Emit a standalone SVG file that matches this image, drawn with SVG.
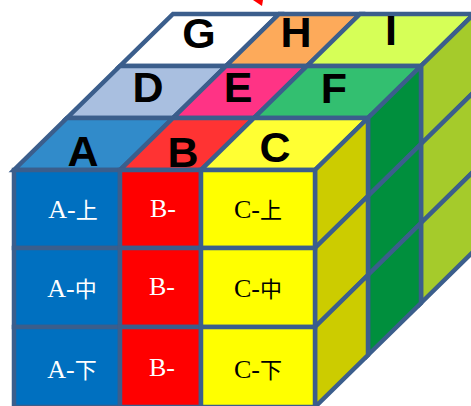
<svg xmlns="http://www.w3.org/2000/svg" width="471" height="406" viewBox="0 0 471 406">
<style>
.f{stroke:#3B5E8C;stroke-width:4.5;stroke-linejoin:miter}
.lab{font-family:"Liberation Sans",Arial,sans-serif;font-weight:bold;font-size:43px;text-anchor:middle;fill:#000}
.t{font-family:"Liberation Serif","Noto Sans CJK JP",serif;font-size:26px;text-anchor:middle}
.j{font-family:"Noto Sans CJK JP",sans-serif;font-size:22px}
.w{fill:#fff}
.k{fill:#000}
</style>
<rect width="471" height="406" fill="#fff"/>
<polygon points="253,0 263,0 262,6" fill="#FF0000"/>
<g id="top-G"><polygon class="f" fill="#FFFFFF" points="120,66 226,66 279,14 173,14"/><text class="lab" x="199" y="48">G</text></g>
<g id="top-H"><polygon class="f" fill="#FDAA5A" points="226,66 307,66 360,14 279,14"/><text class="lab" x="296" y="47">H</text></g>
<g id="top-I"><polygon class="f" fill="#D6FF57" points="307,66 421,66 474,14 360,14"/><text class="lab" x="391" y="45">I</text></g>
<g id="top-D"><polygon class="f" fill="#A9BFE0" points="67,118 173,118 226,66 120,66"/><text class="lab" x="148" y="102">D</text></g>
<g id="top-E"><polygon class="f" fill="#FF3385" points="173,118 254,118 307,66 226,66"/><text class="lab" x="238" y="102">E</text></g>
<g id="top-F"><polygon class="f" fill="#33BF70" points="254,118 368,118 421,66 307,66"/><text class="lab" x="334" y="103">F</text></g>
<g id="top-A"><polygon class="f" fill="#318BCA" points="14,170 120,170 173,118 67,118"/><text class="lab" x="83" y="166">A</text></g>
<g id="top-B"><polygon class="f" fill="#FF3333" points="120,170 201,170 254,118 173,118"/><text class="lab" x="183" y="167">B</text></g>
<g id="top-C"><polygon class="f" fill="#FFFF33" points="201,170 315,170 368,118 254,118"/><text class="lab" x="275" y="162">C</text></g>
<g id="side-I">
<polygon class="f" fill="#A5CB2B" points="421,66 474,14 474,92 421,144"/>
<polygon class="f" fill="#A5CB2B" points="421,144 474,92 474,171 421,223"/>
<polygon class="f" fill="#A5CB2B" points="421,223 474,171 474,251 421,303"/>
</g>
<g id="side-F">
<polygon class="f" fill="#008F3D" points="368,118 421,66 421,144 368,196"/>
<polygon class="f" fill="#008F3D" points="368,196 421,144 421,223 368,275"/>
<polygon class="f" fill="#008F3D" points="368,275 421,223 421,303 368,355"/>
</g>
<g id="side-C">
<polygon class="f" fill="#CCCC00" points="315,170 368,118 368,196 315,248"/>
<polygon class="f" fill="#CCCC00" points="315,248 368,196 368,275 315,327"/>
<polygon class="f" fill="#CCCC00" points="315,327 368,275 368,355 315,407"/>
</g>
<g id="A-top-row"><rect class="f" fill="#0070C0" x="14" y="170" width="106" height="78"/><text class="t w" x="73" y="218">A-<tspan class="j">上</tspan></text></g>
<g id="A-mid-row"><rect class="f" fill="#0070C0" x="14" y="248" width="106" height="79"/><text class="t w" x="72" y="297">A-<tspan class="j">中</tspan></text></g>
<g id="A-bot-row"><rect class="f" fill="#0070C0" x="14" y="327" width="106" height="80"/><text class="t w" x="72" y="378">A-<tspan class="j">下</tspan></text></g>
<g id="B-top-row"><rect class="f" fill="#FF0000" x="120" y="170" width="81" height="78"/><text class="t w" x="163" y="217">B-</text></g>
<g id="B-mid-row"><rect class="f" fill="#FF0000" x="120" y="248" width="81" height="79"/><text class="t w" x="162" y="295">B-</text></g>
<g id="B-bot-row"><rect class="f" fill="#FF0000" x="120" y="327" width="81" height="80"/><text class="t w" x="162" y="376">B-</text></g>
<g id="C-top-row"><rect class="f" fill="#FFFF00" x="201" y="170" width="114" height="78"/><text class="t k" x="258" y="218">C-<tspan class="j">上</tspan></text></g>
<g id="C-mid-row"><rect class="f" fill="#FFFF00" x="201" y="248" width="114" height="79"/><text class="t k" x="258" y="297">C-<tspan class="j">中</tspan></text></g>
<g id="C-bot-row"><rect class="f" fill="#FFFF00" x="201" y="327" width="114" height="80"/><text class="t k" x="258" y="378">C-<tspan class="j">下</tspan></text></g>
<g id="connectors"></g>
</svg>
